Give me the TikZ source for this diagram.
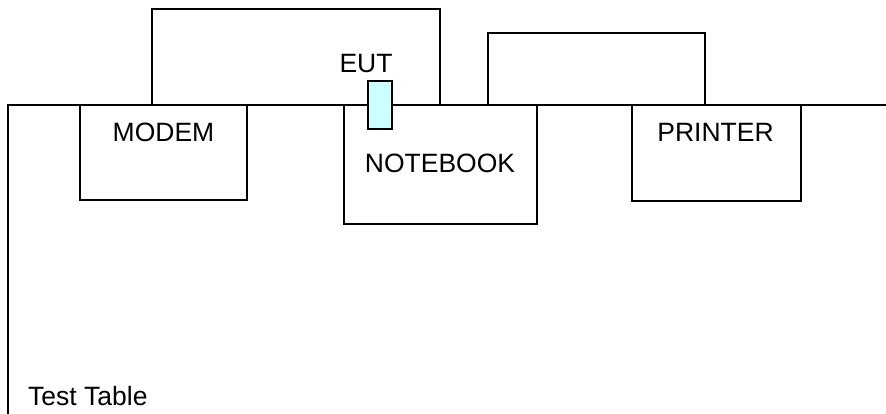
\documentclass[tikz,border=0pt]{standalone}
\usepackage{fontspec}
\setmainfont{Liberation Sans}
\begin{document}
\begin{tikzpicture}[x=1pt,y=-1pt,
  box/.style={draw=black, line width=1.4pt, rectangle, inner sep=0pt, outer sep=0pt, anchor=north west},
  lbl/.style={inner sep=0pt, anchor=base, font=\fontsize{26.5}{32}\selectfont},
  ln/.style={draw=black, line width=1.4pt}]
\useasboundingbox (0,0) rectangle (886,414);
% table
\coordinate (tl) at (8,105);
\coordinate (tr) at (886,105);
\coordinate (bl) at (8,414);
% cable loops
\node[box, minimum width=288pt, minimum height=96pt] (cab1) at (152,9) {};
\node[box, minimum width=217pt, minimum height=72pt] (cab2) at (488,33) {};
% devices
\node[box, minimum width=167pt, minimum height=95pt] (modem) at (80,105) {};
\node[box, minimum width=193pt, minimum height=119pt] (notebook) at (344,105) {};
\node[box, minimum width=169pt, minimum height=96pt] (printer) at (632,105) {};
\draw[ln] (bl) -- (tl) -- (tr);
% EUT
\node[box, fill={rgb,255:red,204;green,255;blue,255}, minimum width=24pt, minimum height=48pt] (eut) at (368,81) {};
% labels
\node[lbl] (eutl) at (366,73) {EUT};
\node[lbl] (modeml) at (163.5,142) {MODEM};
\node[lbl] (notebookl) at (440,173) {NOTEBOOK};
\node[lbl] (printerl) at (715.5,142) {PRINTER};
\node[lbl, anchor=base west] (tablel) at (28,405) {Test Table};
\end{tikzpicture}
\end{document}
